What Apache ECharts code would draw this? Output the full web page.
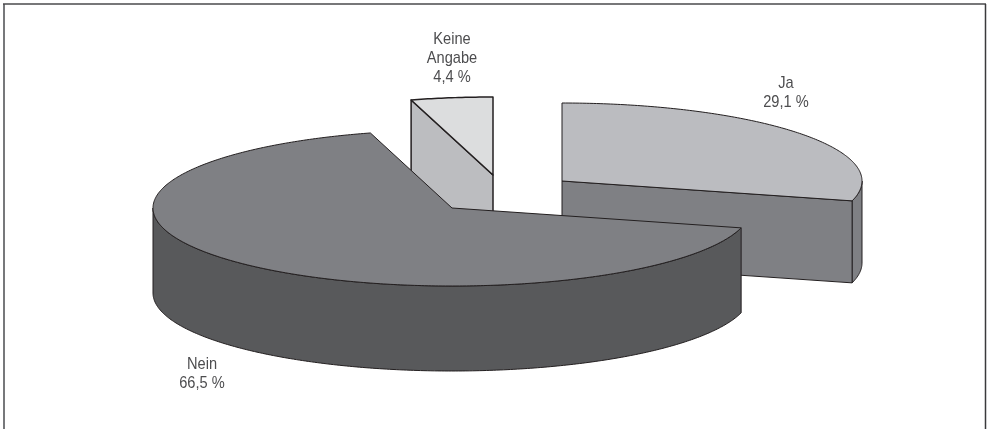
<!DOCTYPE html>
<html><head><meta charset="utf-8">
<style>html,body{margin:0;padding:0;background:#fff}#c{width:989px;height:429px}</style>
<script src="https://cdn.jsdelivr.net/npm/echarts@6/dist/echarts.min.js"></script>
</head><body><div id="c"></div>
<script>
const categories = ['Ja', 'Nein', 'Keine Angabe'];
const shares = [29.1, 66.5, 4.4];
const shareLabels = ['29,1 %', '66,5 %', '4,4 %'];

const layout = [
  {cx: 562, cy: 181, rx: 300, ry: 78, depth: 82, lw: 1, top: '#bbbcc0', cut: '#7f8084', side: '#7f8084', lx: 786, ly: 74, lines: ['Ja']},
  {cx: 452, cy: 208, rx: 299, ry: 78, depth: 85, lw: 1, top: '#7f8084', cut: '#58595b', side: '#58595b', lx: 202, ly: 355, lines: ['Nein']},
  {cx: 493, cy: 175, rx: 300, ry: 78, depth: 85, lw: 1.5, top: '#dcddde', cut: '#bcbdc0', side: '#bcbdc0', lx: 452, ly: 30, lines: ['Keine', 'Angabe']}
];
const drawOrder = [2, 0, 1];
const total = shares.reduce((a, b) => a + b, 0);
const starts = [];
shares.reduce((acc, v, i) => { starts[i] = acc; return acc + v / total * 360; }, -90);

function pt(s, deg, dz) {
  const r = deg * Math.PI / 180;
  return [s.cx + s.rx * Math.cos(r), s.cy + s.ry * Math.sin(r) + (dz || 0)];
}
function arcPts(s, a0, a1, dz) {
  const out = [], n = Math.max(2, Math.ceil(Math.abs(a1 - a0) * 1.5));
  for (let i = 0; i <= n; i++) out.push(pt(s, a0 + (a1 - a0) * i / n, dz));
  return out;
}
function poly(points, fill, lw) {
  return {type: 'polygon', shape: {points}, style: {fill, stroke: '#231f20', lineWidth: lw, lineJoin: 'round'}};
}

function renderSlice(params, api) {
  const i = drawOrder[params.dataIndex];
  const s = layout[i], a0 = starts[i], a1 = a0 + api.value(0) / total * 360;
  const kids = [];
  const apex = [s.cx, s.cy], apexB = [s.cx, s.cy + s.depth];
  const w0 = Math.max(a0, 0), w1 = Math.min(a1, 180);
  if (w1 > w0) {
    const upper = arcPts(s, w0, w1, 0), lower = arcPts(s, w1, w0, s.depth);
    kids.push(poly(upper.concat(lower), s.side, s.lw));
  }
  if (i === 0) {
    kids.push(poly([apex, pt(s, a1), pt(s, a1, s.depth), apexB], s.cut, s.lw));
  }
  if (i === 2) {
    kids.push(poly([pt(s, a0), apex, apexB, pt(s, a0, s.depth)], s.cut, s.lw));
  }
  kids.push(poly([apex].concat(arcPts(s, a0, a1, 0)), s.top, s.lw));
  return {type: 'group', children: kids};
}

function renderLabel(params) {
  const i = drawOrder[params.dataIndex];
  const s = layout[i];
  return {
    type: 'text', silent: true, x: s.lx, y: s.ly, scaleX: 0.86,
    style: {
      text: s.lines.concat([shareLabels[i]]).join('\n'),
      x: 0, y: 0, align: 'center', verticalAlign: 'top',
      font: '17px "Liberation Sans", sans-serif',
      lineHeight: 18.8, fill: '#4d4d4f'
    }
  };
}

const seriesData = drawOrder.map(i => ({name: categories[i], value: shares[i]}));
const chart = echarts.init(document.getElementById('c'), null, {renderer: 'canvas'});
chart.setOption({
  animation: false,
  backgroundColor: '#ffffff',
  graphic: [
    {type: 'line', silent: true, shape: {x1: 4, y1: 4, x2: 4, y2: 429}, style: {stroke: '#77787b', lineWidth: 2}},
    {type: 'line', silent: true, shape: {x1: 3, y1: 4, x2: 986, y2: 4}, style: {stroke: '#4a4a4c', lineWidth: 1.5}},
    {type: 'line', silent: true, shape: {x1: 985.5, y1: 4, x2: 985.5, y2: 429}, style: {stroke: '#3a3a3c', lineWidth: 1.5}}
  ],
  series: [
    {type: 'custom', coordinateSystem: 'none', data: seriesData, renderItem: renderSlice, silent: true, z: 2},
    {type: 'custom', coordinateSystem: 'none', data: seriesData, renderItem: renderLabel, silent: true, z: 3}
  ]
});
</script></body></html>
